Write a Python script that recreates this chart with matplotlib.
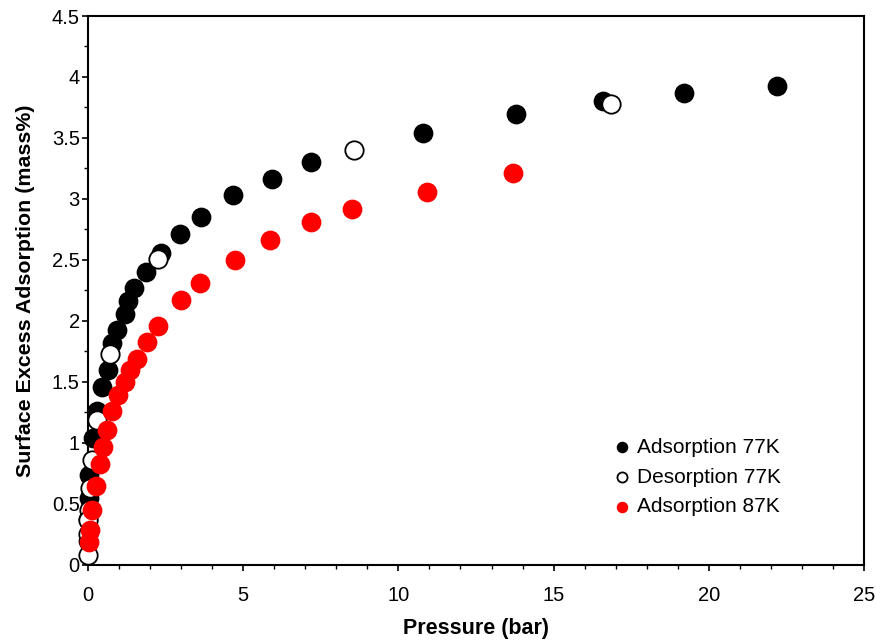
import matplotlib
matplotlib.use("Agg")
import matplotlib.pyplot as plt
from matplotlib.ticker import MultipleLocator

plt.rcParams['font.family'] = ['Liberation Sans', 'DejaVu Sans']

# Adsorption 77K (filled black)
ads77_p = [0.005, 0.01, 0.02, 0.04, 0.17, 0.28, 0.44, 0.63, 0.76, 0.92, 1.19, 1.30,
           1.48, 1.86, 2.35, 2.96, 3.64, 4.68, 5.92, 7.18, 10.8, 13.8, 16.6, 19.2, 22.2]
ads77_q = [0.20, 0.38, 0.55, 0.74, 1.04, 1.26, 1.46, 1.60, 1.82, 1.93, 2.06, 2.16,
           2.27, 2.40, 2.56, 2.71, 2.855, 3.03, 3.16, 3.30, 3.54, 3.70, 3.80, 3.87, 3.93]

# Desorption 77K (open)
des77_p = [16.85, 8.57, 2.26, 0.71, 0.30, 0.12, 0.06, 0.02, 0.01, 0.01, 0.01]
des77_q = [3.78, 3.40, 2.51, 1.73, 1.19, 0.86, 0.63, 0.45, 0.37, 0.25, 0.08]

# Adsorption 87K (red)
ads87_p = [0.04, 0.06, 0.12, 0.26, 0.37, 0.49, 0.60, 0.76, 0.98, 1.19, 1.35, 1.57,
           1.91, 2.27, 3.0, 3.61, 4.74, 5.86, 7.18, 8.5, 10.92, 13.7]
ads87_q = [0.19, 0.29, 0.45, 0.65, 0.83, 0.97, 1.11, 1.26, 1.39, 1.50, 1.60, 1.69,
           1.83, 1.96, 2.17, 2.31, 2.50, 2.66, 2.81, 2.92, 3.06, 3.21]

fig = plt.figure(figsize=(8.76, 6.40), dpi=100)
ax = fig.add_axes([0.1005, 0.1172, 0.8858, 0.8578])

s = 175
ax.scatter(ads77_p, ads77_q, s=s, c='black', edgecolors='black', linewidths=1,
           label='Adsorption 77K', zorder=3, clip_on=False)
ax.scatter(des77_p, des77_q, s=s, c='white', edgecolors='black', linewidths=1.3,
           label='Desorption 77K', zorder=4, clip_on=False)
ax.scatter(ads87_p, ads87_q, s=s, c='#ff0000', edgecolors='#ff0000', linewidths=1,
           label='Adsorption 87K', zorder=5, clip_on=False)

ax.set_xlim(0, 25)
ax.set_ylim(0, 4.5)
ax.set_xticks([0, 5, 10, 15, 20, 25])
ax.set_xticklabels(['0', '5', '10', '15', '20', '25'])
ax.set_yticks([0, 0.5, 1, 1.5, 2, 2.5, 3, 3.5, 4, 4.5])
ax.set_yticklabels(['0', '0.5', '1', '1.5', '2', '2.5', '3', '3.5', '4', '4.5'])
ax.xaxis.set_minor_locator(MultipleLocator(1))
ax.yaxis.set_minor_locator(MultipleLocator(0.25))
ax.tick_params(which='major', direction='out', length=4, width=1.2, labelsize=14.5,
               top=False, right=False)
ax.tick_params(axis='x', which='major', pad=11)
ax.tick_params(axis='y', which='major', pad=2)
ax.tick_params(which='minor', direction='out', length=3, width=1, top=False, right=False)
for sp in ax.spines.values():
    sp.set_linewidth(1.5)

ax.set_xlabel('Pressure (bar)', fontsize=15.5, fontweight='bold', labelpad=9.5)
ax.set_ylabel('Surface Excess Adsorption (mass%)', fontsize=15.4, fontweight='bold', labelpad=12)

leg = ax.legend(loc='upper left', bbox_to_anchor=(0.661, 0.247), frameon=False,
                fontsize=15, markerscale=0.55, handletextpad=0.15, labelspacing=0.52,
                handlelength=1.2, borderaxespad=0)

fig.savefig('out.png', dpi=100)
